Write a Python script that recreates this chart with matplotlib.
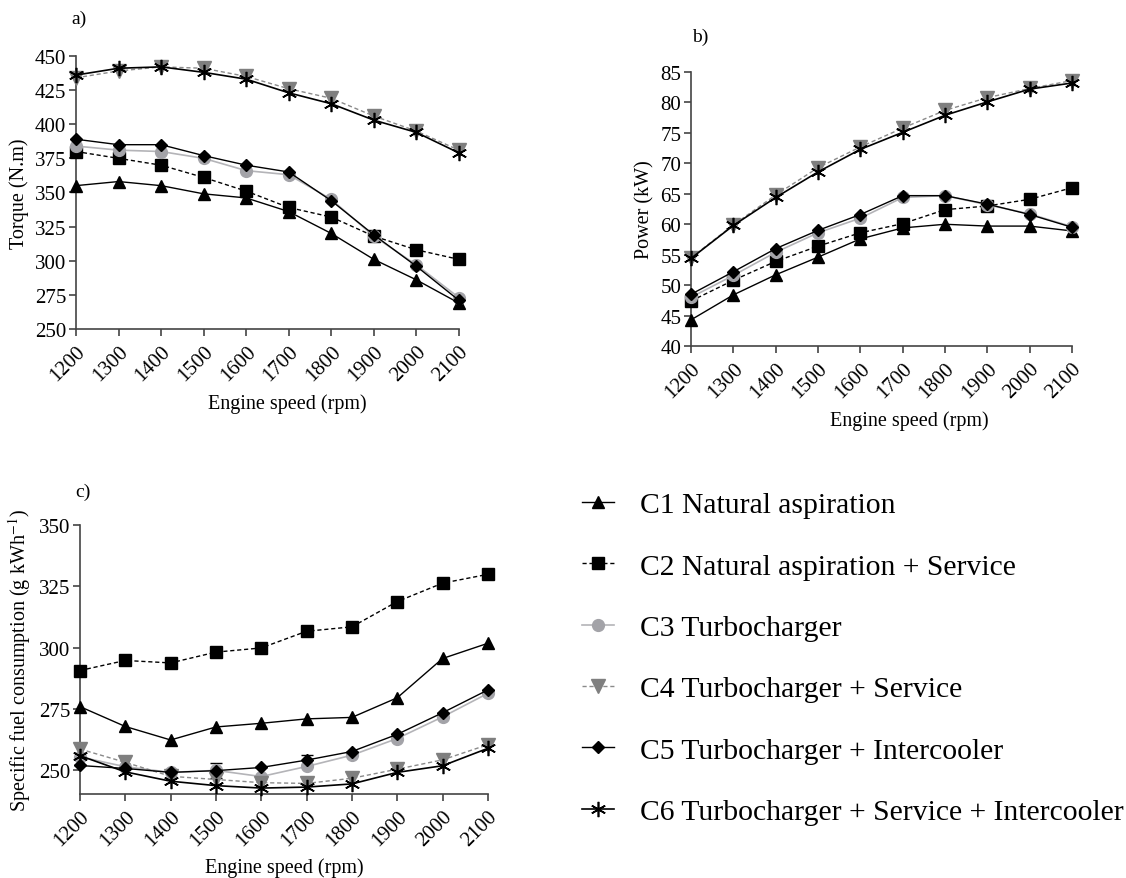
import matplotlib
matplotlib.use("Agg")
import matplotlib.pyplot as plt
import numpy as np

plt.rcParams['font.family'] = ['Liberation Serif', 'DejaVu Serif']
plt.rcParams['mathtext.fontset'] = 'stix'

speed = [1200, 1300, 1400, 1500, 1600, 1700, 1800, 1900, 2000, 2100]

labels = ["C1 Natural aspiration",
          "C2 Natural aspiration + Service",
          "C3 Turbocharger",
          "C4 Turbocharger + Service",
          "C5 Turbocharger + Intercooler",
          "C6 Turbocharger + Service + Intercooler"]

# Torque (N.m)
torque_c1 = [355, 358, 355, 349, 346, 336, 320, 301, 286, 269]
torque_c2 = [380, 375, 370, 361, 351, 339, 332, 318, 308, 301]
torque_c3 = [384, 381, 380, 375, 366, 363, 345, 318, 297, 273]
torque_c4 = [434, 439, 442, 441, 435, 426, 419, 406, 395, 381]
torque_c5 = [389, 385, 385, 377, 370, 365, 344, 319, 296, 271]
torque_c6 = [436, 441, 442, 438, 433, 423, 415, 403, 394, 379]

# Power (kW)
power_c1 = [44.3, 48.4, 51.7, 54.6, 57.6, 59.4, 60.0, 59.7, 59.7, 58.9]
power_c2 = [47.4, 50.8, 53.9, 56.4, 58.6, 60.1, 62.4, 63.0, 64.1, 66.0]
power_c3 = [48.0, 51.6, 55.4, 58.6, 61.0, 64.4, 64.7, 63.2, 61.7, 59.6]
power_c4 = [54.5, 59.9, 64.8, 69.3, 72.7, 75.8, 78.7, 80.8, 82.3, 83.6]
power_c5 = [48.5, 52.2, 56.0, 59.0, 61.6, 64.7, 64.7, 63.3, 61.6, 59.5]
power_c6 = [54.4, 59.8, 64.4, 68.6, 72.3, 75.1, 77.9, 80.1, 82.2, 83.2]

# Specific fuel consumption (g kWh-1)
sfc_c1 = [276.0, 267.9, 262.4, 267.7, 269.2, 271.0, 271.6, 279.6, 295.6, 301.8]
sfc_c2 = [290.7, 294.8, 293.8, 298.2, 299.9, 306.7, 308.5, 318.8, 326.3, 329.9]
sfc_c3 = [255.5, 251.5, 249.2, 250.0, 247.5, 251.6, 256.2, 263.0, 271.8, 281.4]
sfc_c4 = [258.7, 253.3, 247.6, 246.3, 245.0, 244.7, 246.8, 250.5, 254.3, 260.5]
sfc_c5 = [252.0, 250.8, 249.2, 249.9, 251.2, 254.2, 257.7, 264.7, 273.5, 282.8]
sfc_c6 = [256.0, 249.4, 245.6, 243.8, 242.8, 243.2, 244.5, 249.2, 251.9, 259.0]
sfc_c5_err = [0, 0, 0, 3.0, 0, 2.0, 0, 0, 0, 0]

styles = [
    dict(color='black', ls='-', lw=1.0, marker='^', ms=8.5, mfc='black', mec='black'),
    dict(color='black', ls=(0, (3, 2)), lw=1.0, marker='s', ms=8.5, mfc='black', mec='black'),
    dict(color='#b4b4b8', ls='-', lw=1.2, marker='o', ms=8.5, mfc='#a3a3a8', mec='#a3a3a8'),
    dict(color='#8a8a8a', ls=(0, (3, 2)), lw=1.0, marker='v', ms=9.5, mfc='#7f7f7f', mec='#7f7f7f'),
    dict(color='black', ls='-', lw=1.0, marker='D', ms=6.5, mfc='black', mec='black'),
    dict(color='black', ls='-', lw=1.2, marker=(6, 2, 0), ms=11, mfc='black', mec='black', mew=1.2),
]
order = [2, 3, 1, 0, 4, 5]

fig = plt.figure(figsize=(11.26, 8.79), dpi=100)

def style_axes(ax, ylim, yticks, ylabel, xlab_x):
    ax.set_xlim(1200, 2100)
    ax.set_ylim(*ylim)
    ax.set_xticks(speed)
    ax.set_xticklabels([str(s) for s in speed], rotation=45, ha='right',
                       rotation_mode='anchor', fontsize=15)
    ax.set_yticks(yticks)
    ax.tick_params(axis='y', labelsize=15, direction='out', length=5, width=1.2, pad=2,
                   color='#444444')
    ax.tick_params(axis='x', direction='out', length=5, width=1.2, pad=4, color='#444444')
    for s in ['top', 'right']:
        ax.spines[s].set_visible(False)
    for s in ['left', 'bottom']:
        ax.spines[s].set_linewidth(1.2)
        ax.spines[s].set_color('#444444')
    ax.set_xlabel('Engine speed (rpm)', fontsize=14.5, va='center')
    ax.xaxis.set_label_coords(xlab_x, -0.272)
    ax.set_ylabel(ylabel, fontsize=14.5, labelpad=4)

def plot_series(ax, data):
    handles = [None] * 6
    for i in order:
        h, = ax.plot(speed, data[i], clip_on=False, zorder=3 + i * 0.1, **styles[i])
        handles[i] = h
    return handles

# a) Torque
axa = fig.add_axes([0.0675, 0.6246, 0.340, 0.3106])
handles = plot_series(axa, [torque_c1, torque_c2, torque_c3, torque_c4, torque_c5, torque_c6])
style_axes(axa, (250, 450), [250, 275, 300, 325, 350, 375, 400, 425, 450], 'Torque (N.m)', 0.551)
fig.text(0.063, 0.978, 'a)', fontsize=14, ha='left', va='center')

# b) Power
axb = fig.add_axes([0.6137, 0.6052, 0.3384, 0.3117])
plot_series(axb, [power_c1, power_c2, power_c3, power_c4, power_c5, power_c6])
style_axes(axb, (40, 85), [40, 45, 50, 55, 60, 65, 70, 75, 80, 85], 'Power (kW)', 0.572)
fig.text(0.615, 0.957, 'b)', fontsize=14, ha='left', va='center')

# c) SFC
axc = fig.add_axes([0.0710, 0.0956, 0.3623, 0.306])
plot_series(axc, [sfc_c1, sfc_c2, sfc_c3, sfc_c4, sfc_c5, sfc_c6])
axc.errorbar(speed, sfc_c5, yerr=sfc_c5_err, fmt='none', ecolor='black', elinewidth=1.0,
             capsize=4, capthick=1.0, zorder=2.5, clip_on=False)
style_axes(axc, (240.4, 350), [250, 275, 300, 325, 350], 'Specific fuel consumption (g kWh$^{-1}$)', 0.5)
fig.text(0.067, 0.44, 'c)', fontsize=14, ha='left', va='center')

leg = fig.legend(handles, labels, loc='upper left', bbox_to_anchor=(0.5064, 0.453),
                 frameon=False, fontsize=21.3, handlelength=1.08, handletextpad=0.88,
                 labelspacing=1.17, borderaxespad=0)

fig.savefig('out.png', dpi=100)
